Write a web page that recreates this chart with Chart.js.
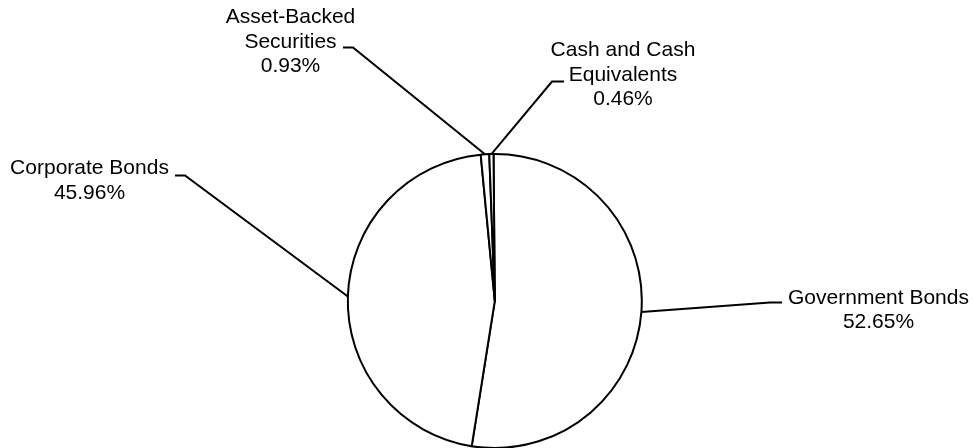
<!DOCTYPE html>
<html>
<head>
<meta charset="utf-8">
<script src="https://cdn.jsdelivr.net/npm/chart.js@4/dist/chart.umd.min.js"></script>
<style>
  html, body { margin: 0; padding: 0; background: #ffffff; }
  #wrap { width: 973px; height: 448px; position: relative; }
</style>
</head>
<body>
<div id="wrap"><canvas id="c" width="973" height="448"></canvas></div>
<script>
// ---- data ----
const categories = ["Government Bonds", "Corporate Bonds", "Asset-Backed Securities", "Cash and Cash Equivalents"];
const labelLines = [["Government Bonds"], ["Corporate Bonds"], ["Asset-Backed", "Securities"], ["Cash and Cash", "Equivalents"]];
const values = [52.65, 45.96, 0.93, 0.46];

// ---- label layout (text centre x, first line y, elbow end, elbow start) ----
const labelLayout = [
  { tx: 878.5, ty: 298, ex1: 770, ex2: 782, ey: 302.5 },
  { tx: 89.5, ty: 168.5, ex1: 185, ex2: 175, ey: 175.5 },
  { tx: 290.5, ty: 17.5, ex1: 353, ex2: 343, ey: 47.5 },
  { tx: 623, ty: 50.5, ex1: 552, ex2: 564, ey: 81.5 }
];

const leaderPlugin = {
  id: 'leaders',
  afterDatasetsDraw(chart) {
    const ctx = chart.ctx;
    const meta = chart.getDatasetMeta(0);
    ctx.save();
    ctx.strokeStyle = '#000';
    ctx.lineWidth = 2;
    ctx.fillStyle = '#000';
    ctx.font = '21px "Liberation Sans", Arial, sans-serif';
    ctx.textAlign = 'center';
    ctx.textBaseline = 'middle';
    meta.data.forEach((arc, i) => {
      const p = arc.getProps(['x', 'y', 'startAngle', 'endAngle', 'outerRadius'], true);
      const mid = (p.startAngle + p.endAngle) / 2;
      const sx = p.x + Math.cos(mid) * p.outerRadius;
      const sy = p.y + Math.sin(mid) * p.outerRadius;
      const L = labelLayout[i];
      ctx.beginPath();
      ctx.moveTo(sx, sy);
      ctx.lineTo(L.ex1, L.ey);
      ctx.lineTo(L.ex2, L.ey);
      ctx.stroke();
      const lines = labelLines[i].concat([values[i].toFixed(2) + '%']);
      lines.forEach((t, k) => ctx.fillText(t, L.tx, L.ty + k * 24.5));
    });
    ctx.restore();
  }
};

new Chart(document.getElementById('c'), {
  type: 'pie',
  data: {
    labels: categories,
    datasets: [{
      data: values,
      backgroundColor: '#ffffff',
      borderColor: '#000000',
      borderWidth: 2,
      radius: 147,
      borderJoinStyle: 'miter'
    }]
  },
  options: {
    responsive: false,
    animation: false,
    rotation: -0.5,
    layout: { padding: { left: 16.6, right: 0, top: 154, bottom: 0 } },
    plugins: {
      legend: { display: false },
      tooltip: { enabled: false }
    }
  },
  plugins: [leaderPlugin]
});
</script>
</body>
</html>
